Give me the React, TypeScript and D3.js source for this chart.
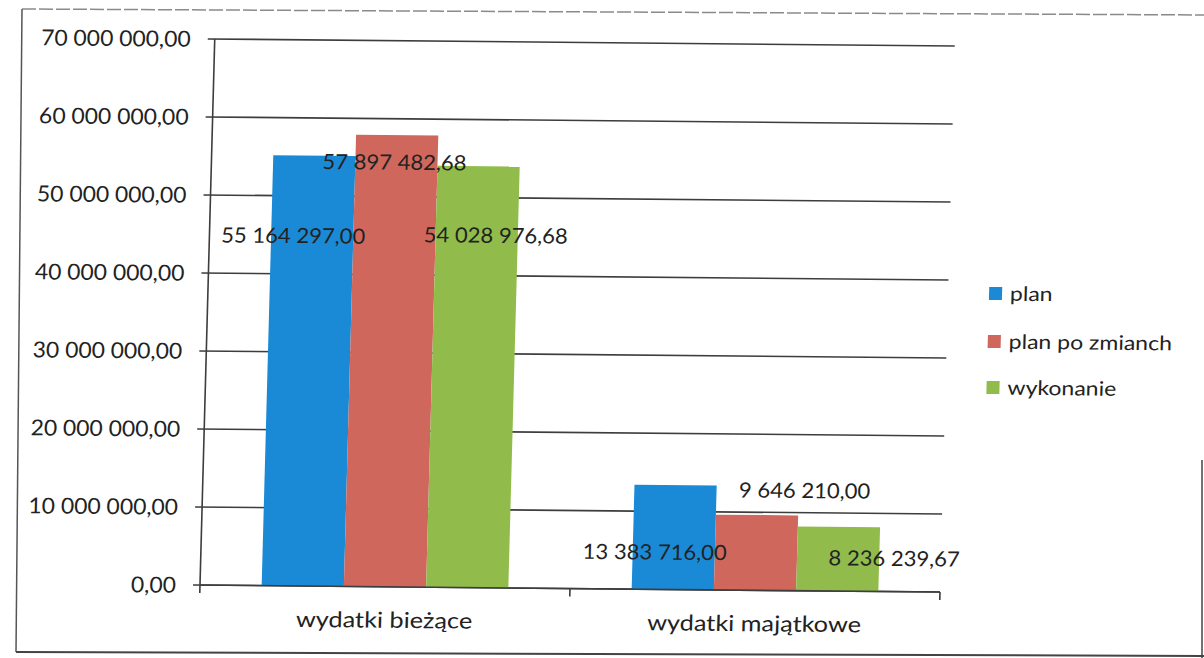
import React, { useEffect, useRef } from 'react';
import * as d3 from 'd3';

// chart data
const categories = ['wydatki bieżące', 'wydatki majątkowe'];
const seriesNames = ['plan', 'plan po zmianch', 'wykonanie'];
const planValues = [55164297.0, 13383716.0];
const planPoZmianachValues = [57897482.68, 9646210.0];
const wykonanieValues = [54028976.68, 8236239.67];
const yTickValues = [0, 10000000, 20000000, 30000000, 40000000, 50000000, 60000000, 70000000];

const seriesColors = ['#1b8ad6', '#cf675d', '#91bc4c'];
// hand-placed data labels in the original: [dx, dy] from the top centre of each bar
const labelNudges = [
  [[-19, 80], [-19, 67]],
  [[-2, 27], [47, -25]],
  [[19, 69], [56, 31]],
];

const FONT = 'Lato, "Open Sans", sans-serif';
const TEXT = '#222';

const plFormat = d3.formatLocale({
  decimal: ',',
  thousands: '\u00a0',
  grouping: [3],
  currency: ['', ' zł'],
}).format(',.2f');

const App = () => {
  const svgRef = useRef(null);

  useEffect(() => {
    renderChart();
  }, []);

  const renderChart = () => {
    const root = d3.select(svgRef.current);
    root.selectAll('*').remove();

    const series = [planValues, planPoZmianachValues, wykonanieValues];

    // plot area (before the scan skew)
    const left = 200;
    const right = 940;
    const top = 39;
    const bottom = 585;

    const xScale = d3.scaleBand().domain(categories).range([left, right]);
    const xInner = d3
      .scaleBand()
      .domain(d3.range(seriesNames.length).map(String))
      .range([0, xScale.bandwidth()])
      .paddingInner(0)
      .paddingOuter(0.75);
    const yScale = d3.scaleLinear().domain([0, 70000000]).range([bottom, top]);

    // page frame
    const frame = root.append('g').attr('fill', 'none');
    frame.append('path').attr('d', 'M22,9 L1204,15').attr('stroke', '#8a8a8a').attr('stroke-width', 1.5).attr('stroke-dasharray', '14 3');
    frame.append('path').attr('d', 'M22,9 L16,652').attr('stroke', '#555').attr('stroke-width', 1.5);
    frame.append('path').attr('d', 'M16,652 L1204,656').attr('stroke', '#444').attr('stroke-width', 2);
    frame.append('path').attr('d', 'M1202,460 L1202,658').attr('stroke', '#444').attr('stroke-width', 1.5);

    // the scanned chart is slightly skewed
    const svg = root
      .append('g')
      .attr('transform', `matrix(1,0.0095,-0.027,1,${(0.027 * bottom).toFixed(2)},${(-0.0095 * left).toFixed(2)})`);

    const addText = (g, x, y, str, size, sx, anchor) =>
      g
        .append('text')
        .attr('transform', `translate(${x},${y}) scale(${sx},1)`)
        .attr('dy', '0.36em')
        .attr('text-anchor', anchor)
        .attr('font-family', FONT)
        .attr('font-size', size)
        .attr('fill', TEXT)
        .text(str);

    // gridlines + y tick labels
    yTickValues.forEach((v) => {
      svg
        .append('line')
        .attr('x1', left - 7)
        .attr('x2', right)
        .attr('y1', yScale(v))
        .attr('y2', yScale(v))
        .attr('stroke', '#3d3d3d')
        .attr('stroke-width', 1.6);
      addText(svg, left - 24, yScale(v), plFormat(v), 22, 1.04, 'end');
    });

    // y axis
    svg
      .append('line')
      .attr('x1', left)
      .attr('x2', left)
      .attr('y1', top)
      .attr('y2', bottom)
      .attr('stroke', '#3d3d3d')
      .attr('stroke-width', 1.6);

    // bars
    series.forEach((values, si) => {
      svg
        .selectAll(`.bar-${si}`)
        .data(values)
        .enter()
        .append('rect')
        .attr('class', `bar-${si}`)
        .attr('x', (d, ci) => xScale(categories[ci]) + xInner(String(si)))
        .attr('y', (d) => yScale(d))
        .attr('width', xInner.bandwidth())
        .attr('height', (d) => bottom - yScale(d))
        .attr('fill', seriesColors[si]);
    });

    // x axis on top of bars
    svg
      .append('line')
      .attr('x1', left)
      .attr('x2', right)
      .attr('y1', bottom)
      .attr('y2', bottom)
      .attr('stroke', '#3d3d3d')
      .attr('stroke-width', 1.6);
    [left, ...categories.map((c) => xScale(c) + xScale.bandwidth())].forEach((x) => {
      svg
        .append('line')
        .attr('x1', x)
        .attr('x2', x)
        .attr('y1', bottom)
        .attr('y2', bottom + 8)
        .attr('stroke', '#3d3d3d')
        .attr('stroke-width', 1.6);
    });

    // category labels
    categories.forEach((c) => {
      svg
        .append('text')
        .attr('transform', `translate(${xScale(c) + xScale.bandwidth() / 2},${bottom + 41}) scale(1.15,1)`)
        .attr('text-anchor', 'middle')
        .attr('font-family', FONT)
        .attr('font-size', 22)
        .attr('fill', TEXT)
        .text(c);
    });

    // data labels
    series.forEach((values, si) => {
      values.forEach((v, ci) => {
        const cx = xScale(categories[ci]) + xInner(String(si)) + xInner.bandwidth() / 2;
        const [dx, dy] = labelNudges[si][ci];
        addText(svg, cx + dx, yScale(v) + dy, plFormat(v), 21, 1.05, 'middle');
      });
    });

    // legend
    const legend = svg.append('g');
    const legendY = [286, 334, 380];
    seriesNames.forEach((name, si) => {
      legend
        .append('rect')
        .attr('x', 981)
        .attr('y', legendY[si] - 6.5)
        .attr('width', 13)
        .attr('height', 13)
        .attr('fill', seriesColors[si]);
      addText(legend, 1002, legendY[si], name, 20, 1.15, 'start');
    });
  };

  return (
    <svg
      ref={svgRef}
      width={1204}
      height={658}
      style={{ position: 'absolute', left: 0, top: 0, background: '#fff' }}
    />
  );
};

export default App;
